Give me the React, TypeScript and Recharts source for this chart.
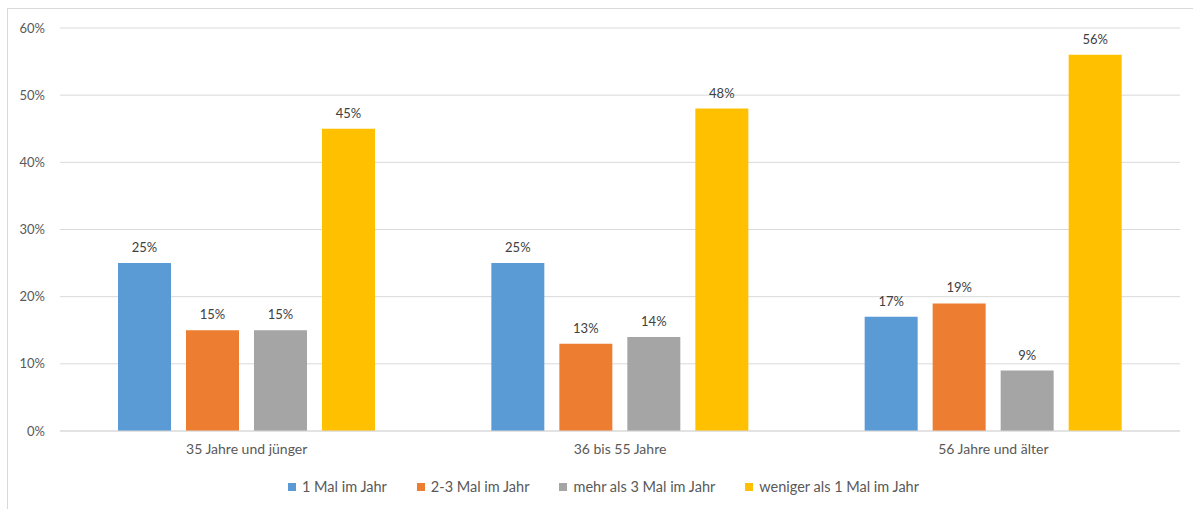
import { BarChart, Bar, XAxis, YAxis, CartesianGrid, LabelList } from 'recharts'

const categories = ['35 Jahre und jünger', '36 bis 55 Jahre', '56 Jahre und älter']

const seriesNames = ['1 Mal im Jahr', '2-3 Mal im Jahr', 'mehr als 3 Mal im Jahr', 'weniger als 1 Mal im Jahr']

const einmal = [25, 25, 17]
const zweiDrei = [15, 13, 19]
const mehrAlsDrei = [15, 14, 9]
const weniger = [45, 48, 56]

const yTicks = [0, 10, 20, 30, 40, 50, 60]

const COLORS = ['#5B9BD5', '#ED7D31', '#A5A5A5', '#FFC000']

const FONT = 'Lato, "Open Sans", sans-serif'

const chartData = categories.map((name, i) => ({
  name,
  s0: einmal[i],
  s1: zweiDrei[i],
  s2: mehrAlsDrei[i],
  s3: weniger[i],
}))

const pct = (v: any) => `${v}%`

export default function App() {
  return (
    <div style={{ position: 'absolute', left: 0, top: 0, width: 1193, height: 509, background: '#fff', fontFamily: FONT }}>
      {/* frame, only top and left edges show */}
      <div
        style={{
          position: 'absolute',
          left: 7,
          top: 8,
          right: 0,
          bottom: 0,
          borderLeft: '1px solid #d9d9d9',
          borderTop: '1px solid #d9d9d9',
        }}
      />
      <div style={{ position: 'absolute', left: 0, top: 0 }}>
        <BarChart
          width={1193}
          height={509}
          data={chartData}
          margin={{ top: 28, right: 13, left: 0, bottom: 48 }}
          barSize={53}
          barGap={15}
        >
          <CartesianGrid vertical={false} stroke="#d9d9d9" />
          <XAxis
            dataKey="name"
            height={30}
            axisLine={{ stroke: '#d9d9d9' }}
            tickLine={false}
            tickMargin={7}
            tick={{ fill: '#595959', fontSize: 14, fontFamily: FONT }}
          />
          <YAxis
            width={60}
            domain={[0, 60]}
            ticks={yTicks}
            axisLine={false}
            tickLine={false}
            tickMargin={9}
            tickFormatter={pct}
            tick={{ fill: '#595959', fontSize: 13, fontFamily: FONT }}
          />
          {seriesNames.map((s, i) => (
            <Bar key={s} dataKey={`s${i}`} name={s} fill={COLORS[i]} isAnimationActive={false}>
              <LabelList
                dataKey={`s${i}`}
                position="top"
                offset={11}
                formatter={pct}
                style={{ fill: '#404040', fontSize: 13, fontFamily: FONT }}
              />
            </Bar>
          ))}
        </BarChart>
      </div>
      <div
        style={{
          position: 'absolute',
          left: 288,
          top: 478,
          display: 'flex',
          gap: 30,
          fontSize: 14.5,
          color: '#595959',
          lineHeight: '18px',
        }}
      >
        {seriesNames.map((s, i) => (
          <div key={s} style={{ display: 'flex', alignItems: 'center', gap: 6 }}>
            <span style={{ width: 8, height: 8, background: COLORS[i], display: 'inline-block' }} />
            <span>{s}</span>
          </div>
        ))}
      </div>
    </div>
  )
}
